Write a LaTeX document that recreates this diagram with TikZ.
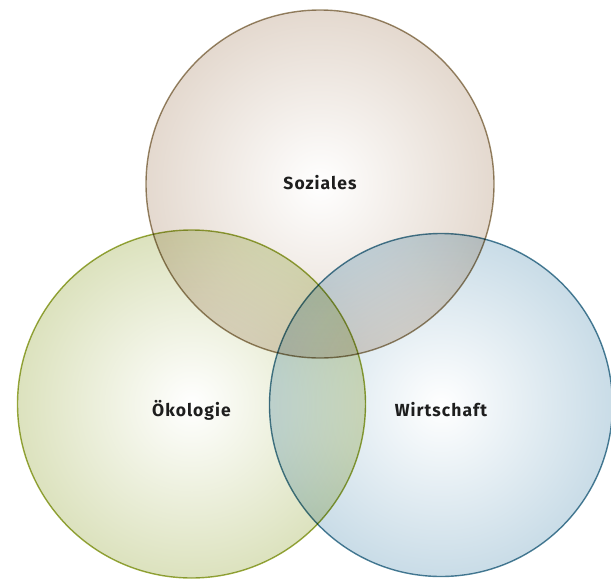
\documentclass[tikz,border=0pt]{standalone}
\usepackage{fontspec}
\newfontfamily\labelfont{Fira Sans}[LetterSpace=6]
\usetikzlibrary{positioning}

\definecolor{sozialesline}{HTML}{9A8868}
\definecolor{sozialesfill}{HTML}{E4D9CF}
\definecolor{oekoline}{HTML}{9CAC3E}
\definecolor{oekofill}{HTML}{DCE2BE}
\definecolor{wirtline}{HTML}{4C8199}
\definecolor{wirtfill}{HTML}{C9DCE7}

\begin{document}
\begin{tikzpicture}[x=1pt,y=-1pt,
        sphere/.style={circle, line width=1.4pt, inner sep=0pt, inner color=white},
        caption/.style={font=\labelfont\bfseries\fontsize{17.5}{20}\selectfont,
                text=black!88},
        ]
        \useasboundingbox (0,0) rectangle (611,581);

        \begin{scope}[blend mode=multiply]
        \node[sphere, minimum size=348pt, draw=sozialesline, outer color=sozialesfill,
                label={[caption, yshift=1pt]center:Soziales}]
                (soziales) at (320,184) {};
        \node[sphere, minimum size=348pt, draw=oekoline, outer color=oekofill,
                label={[caption, yshift=-6pt]center:Ökologie}]
                (oekologie) at (191.5,404) {};
        \node[sphere, minimum size=343pt, draw=wirtline, outer color=wirtfill,
                label={[caption, yshift=-5pt]center:Wirtschaft}]
                (wirtschaft) at (441,405) {};
        \end{scope}
\end{tikzpicture}
\end{document}
